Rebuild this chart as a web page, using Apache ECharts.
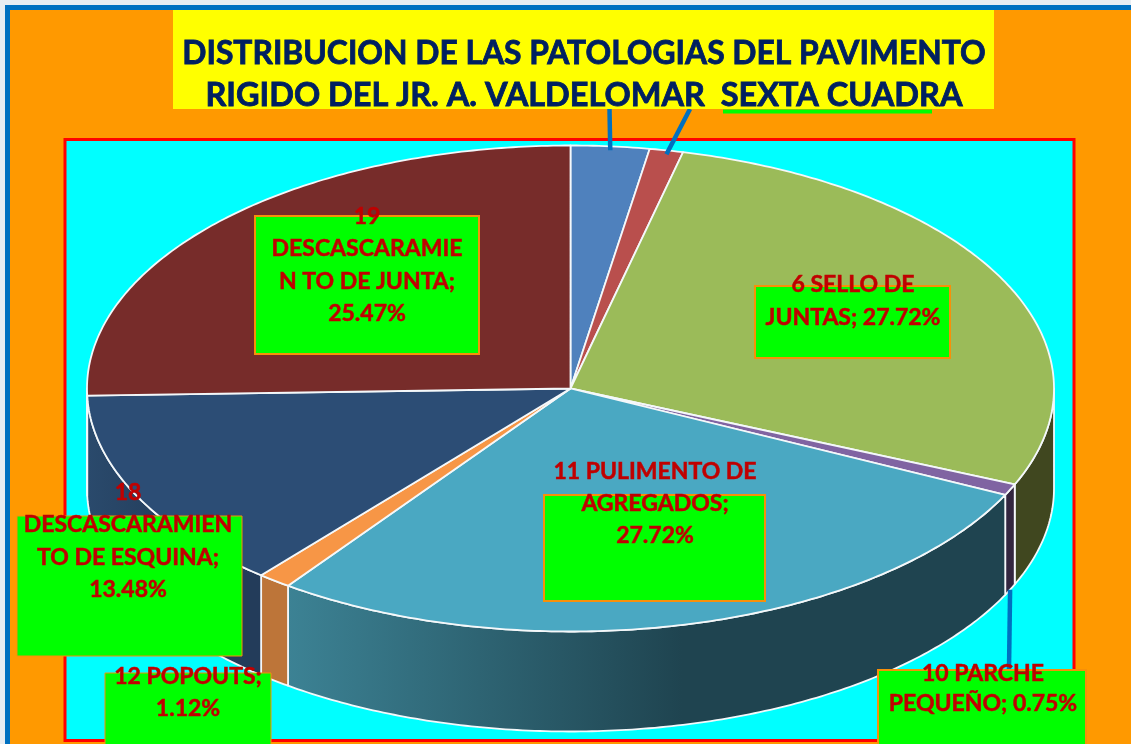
<!DOCTYPE html>
<html><head><meta charset="utf-8">
<style>html,body{margin:0;padding:0;background:#fff}#c{width:1131px;height:744px}</style>
<script src="https://cdn.jsdelivr.net/npm/echarts@6/dist/echarts.min.js"></script>
</head><body><div id="c"></div>
<script>
// ---- data
const titleLines = ['DISTRIBUCION DE LAS PATOLOGIAS DEL PAVIMENTO', 'RIGIDO DEL JR. A. VALDELOMAR  SEXTA CUADRA'];
const percents = [2.62, 1.12, 27.72, 0.75, 27.72, 1.12, 13.48, 25.47];
const labelTexts = [
  '',
  '',
  '6 SELLO DE\nJUNTAS; 27.72%',
  '10 PARCHE\nPEQUEÑO; 0.75%',
  '11 PULIMENTO DE\nAGREGADOS;\n27.72%',
  '12 POPOUTS;\n1.12%',
  '18\nDESCASCARAMIEN\nTO DE ESQUINA;\n13.48%',
  '19\nDESCASCARAMIE\nN TO DE JUNTA;\n25.47%'
];
const topColors = ['#4f81bd', '#b94f4d', '#9bbb59', '#8064a2', '#4aa8c2', '#f79646', '#2c4d75', '#772c2a'];
const wallColors = [null, null, '#40471f', '#33263f', ['#3c8294', '#1f4450'], '#bd7539', ['#2a4a6c', '#233c5a'], '#5a2120'];

// ---- layout
const cx = 570.5, cy = 388.5, rx = 483.5, ry = 243, depth = 100;
const leaderEnds = { 0: [609.5, 109], 1: [690, 109], 3: [1009, 670] };
const boxes = {
  2: { x: 755, y: 286, w: 195, h: 72, tx: 853, ty: 268, lh: 33, bw: 2 },
  3: { x: 878, y: 670, w: 208, h: 80, tx: 983, ty: 659, lh: 30, bw: 2 },
  4: { x: 544, y: 495, w: 221, h: 106, tx: 655, ty: 456, lh: 32, bw: 2 },
  5: { x: 105, y: 673, w: 166, h: 80, tx: 188, ty: 661, lh: 32, bw: 1 },
  6: { x: 17, y: 516, w: 225, h: 140, tx: 128, ty: 476, lh: 32.5, bw: 1 },
  7: { x: 255, y: 216, w: 224, h: 138, tx: 367, ty: 200, lh: 32.5, bw: 2 }
};

const total = percents.reduce((a, b) => a + b, 0);
const starts = [];
percents.reduce((acc, v, i) => { starts[i] = acc; return acc + v; }, 0);
const toAngle = p => p / total * 2 * Math.PI;
const px = (a, dy) => [cx + rx * Math.sin(a), cy - ry * Math.cos(a) + (dy || 0)];
function arc(a0, a1, dy) {
  const n = Math.max(2, Math.ceil((a1 - a0) / 0.012));
  const pts = [];
  for (let i = 0; i <= n; i++) pts.push(px(a0 + (a1 - a0) * i / n, dy));
  return pts;
}
const white = { stroke: '#f4f8fa', lineWidth: 1.8, lineJoin: 'round' };

function renderSlice(params, api) {
  const i = params.dataIndex;
  const a0 = toAngle(starts[i]), a1 = toAngle(starts[i] + api.value(0));
  const children = [];
  // visible wall: the front half of the rim
  const w0 = Math.max(a0, Math.PI / 2), w1 = Math.min(a1, Math.PI * 1.5);
  if (w1 > w0 && wallColors[i]) {
    const top = arc(w0, w1, 0), bot = arc(w0, w1, depth).reverse();
    const c = wallColors[i];
    const xs = top.map(p => p[0]);
    const fill = Array.isArray(c)
      ? new echarts.graphic.LinearGradient(Math.min(...xs), 0, Math.max(...xs), 0,
          [{ offset: 0, color: c[0] }, { offset: 0.55, color: c[1] }, { offset: 1, color: c[1] }], true)
      : c;
    children.push({ type: 'polygon', shape: { points: top.concat(bot) }, style: Object.assign({ fill }, white) });
  }
  children.push({
    type: 'polygon',
    shape: { points: [[cx, cy]].concat(arc(a0, a1, 0)) },
    style: Object.assign({ fill: topColors[i] }, white)
  });
  if (leaderEnds[i]) {
    const mid = (a0 + a1) / 2;
    const isFront = mid > Math.PI / 2 && mid < Math.PI * 1.5;
    const p = px(mid, isFront ? depth : 4);
    const e = leaderEnds[i];
    children.push({
      type: 'line', shape: { x1: p[0], y1: p[1], x2: e[0], y2: e[1] },
      style: { stroke: '#0070c0', lineWidth: 4.5 }
    });
  }
  return { type: 'group', children };
}

function renderLabel(params) {
  const i = params.dataIndex, b = boxes[i];
  if (!b) return { type: 'group', children: [] };
  return {
    type: 'group',
    children: [
      { type: 'rect', shape: { x: b.x, y: b.y, width: b.w, height: b.h },
        style: { fill: '#00ff00', stroke: '#f79009', lineWidth: b.bw } },
      { type: 'text', style: {
          x: b.tx, y: b.ty, text: labelTexts[i], align: 'center', verticalAlign: 'top',
          font: 'bold 23px Lato', lineHeight: b.lh, fill: '#c00000', stroke: '#c00000', lineWidth: 0.5 } }
    ]
  };
}

const titleStyle = { fontFamily: 'Lato', fontWeight: 'bold', lineHeight: 42, color: '#002060',
  textBorderColor: '#002060', textBorderWidth: 0.8 };
const chart = echarts.init(document.getElementById('c'), null, { renderer: 'canvas' });
chart.setOption({
  animation: false,
  backgroundColor: '#ff9900',
  title: {
    text: '{a|' + titleLines[0] + '}\n{b|' + titleLines[1] + '}', left: 579, top: 28, textAlign: 'center', z: 8,
    textStyle: Object.assign({ fontSize: 31.8, rich: {
      a: Object.assign({ fontSize: 31.8 }, titleStyle),
      b: Object.assign({ fontSize: 32.5 }, titleStyle)
    } }, titleStyle)
  },
  graphic: [
    { type: 'rect', z: -5, shape: { x: 0, y: 0, width: 1131, height: 744 }, style: { fill: '#e8edf2' } },
    { type: 'rect', z: -4, shape: { x: 5, y: 5, width: 1126, height: 739 }, style: { fill: '#0070c0' } },
    { type: 'rect', z: -3, shape: { x: 10, y: 10, width: 1121, height: 734 }, style: { fill: '#ff9900' } },
    { type: 'rect', z: -2, shape: { x: 65, y: 139.5, width: 1009, height: 601 }, style: { fill: '#00ffff', stroke: '#ff0000', lineWidth: 3 } },
    { type: 'rect', z: 5, shape: { x: 173, y: 10, width: 821, height: 99 }, style: { fill: '#ffff00' } },
    { type: 'rect', z: 7, shape: { x: 723, y: 109.5, width: 209, height: 4 }, style: { fill: '#00ff00' } }
  ],
  series: [
    { type: 'custom', coordinateSystem: 'none', z: 2, clip: false, renderItem: renderSlice, data: percents.map(v => [v]) },
    { type: 'custom', coordinateSystem: 'none', z: 9, clip: false, renderItem: renderLabel, data: percents.map(v => [v]) }
  ]
});
</script>
</body></html>
